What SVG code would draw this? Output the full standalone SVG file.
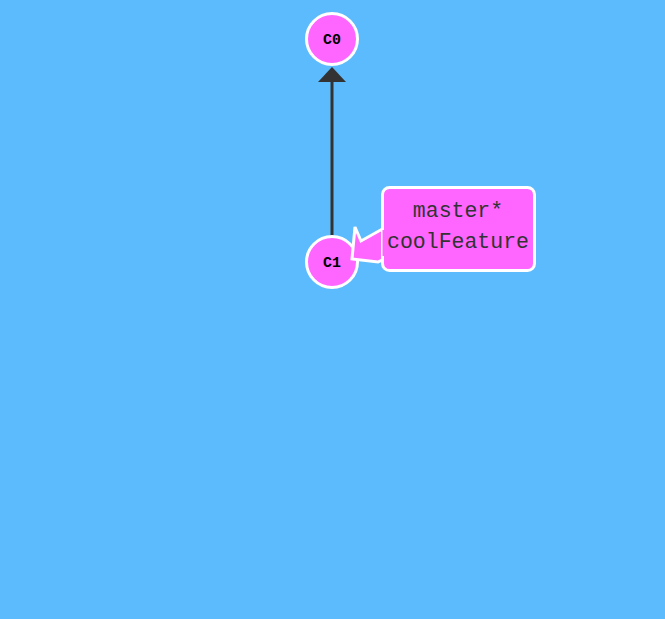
<svg xmlns="http://www.w3.org/2000/svg" width="665" height="619" viewBox="0 0 665 619">
<style>
.node circle{fill:#ff66ff;stroke:#fff;stroke-width:3}
.node text{font-family:"Liberation Mono",monospace;font-weight:bold;font-size:15px;fill:#000;text-anchor:middle}
.edge{stroke:#333;stroke-width:3;fill:none}
.head{fill:#333}
.tag rect,.tag polygon{fill:#ff66ff;stroke:#fff;stroke-width:3;stroke-linejoin:miter}
.tag text{font-family:"Liberation Mono",monospace;font-size:21.5px;fill:#333;text-anchor:middle}
</style>
<rect width="665" height="619" fill="#5cbbfc"/>
<g id="connectors">
<line class="edge" x1="332" y1="237" x2="332" y2="80"/>
<polygon class="head" points="318,82 346,82 332,67"/>
</g>
<g id="C0" class="node"><circle cx="332" cy="39" r="25.5"/><text x="332" y="44">C0</text></g>
<g id="C1" class="node"><circle cx="332" cy="262" r="25.5"/><text x="332" y="267">C1</text></g>
<g id="label-master" class="tag">
<polygon points="386,227 361,241 355,227 352,259 378,262 386,258"/>
<rect x="382.5" y="187.5" width="152" height="83" rx="7"/>
<rect x="382.5" y="230" width="8" height="26" style="stroke:none"/>
<text x="458" y="217">master*</text>
<text x="458" y="248">coolFeature</text>
</g>
</svg>
